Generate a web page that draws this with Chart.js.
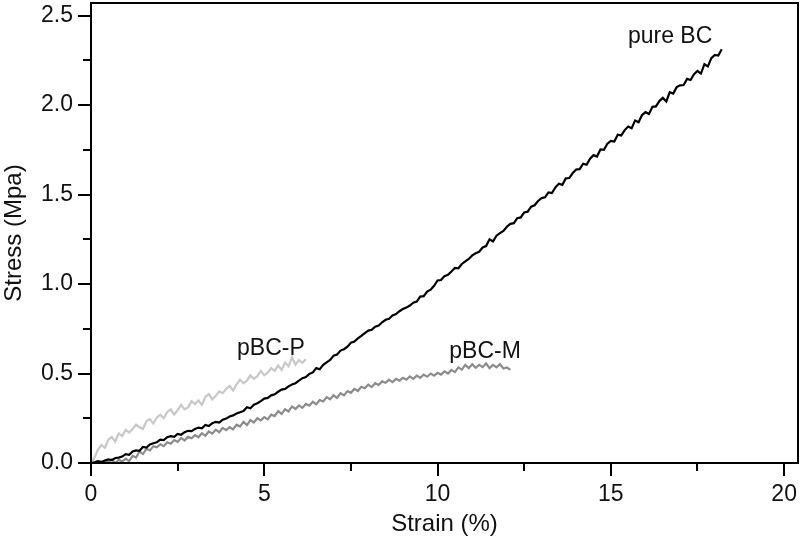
<!DOCTYPE html>
<html>
<head>
<meta charset="utf-8">
<script src="https://cdn.jsdelivr.net/npm/chart.js@4/dist/chart.umd.min.js"></script>
<style>
  html, body { margin: 0; padding: 0; background: #fff; }
  canvas { display: block; }
</style>
</head>
<body>
<canvas id="stressChart" width="800" height="539"></canvas>
<script>
// ── Strain grid (%) ─────────────────────────────────────
const strain = [
  0.0, 0.1, 0.2, 0.3, 0.4, 0.5, 0.6, 0.7, 0.8, 0.9,
  1.0, 1.1, 1.2, 1.3, 1.4, 1.5, 1.6, 1.7, 1.8, 1.9,
  2.0, 2.1, 2.2, 2.3, 2.4, 2.5, 2.6, 2.7, 2.8, 2.9,
  3.0, 3.1, 3.2, 3.3, 3.4, 3.5, 3.6, 3.7, 3.8, 3.9,
  4.0, 4.1, 4.2, 4.3, 4.4, 4.5, 4.6, 4.7, 4.8, 4.9,
  5.0, 5.1, 5.2, 5.3, 5.4, 5.5, 5.6, 5.7, 5.8, 5.9,
  6.0, 6.1, 6.2, 6.3, 6.4, 6.5, 6.6, 6.7, 6.8, 6.9,
  7.0, 7.1, 7.2, 7.3, 7.4, 7.5, 7.6, 7.7, 7.8, 7.9,
  8.0, 8.1, 8.2, 8.3, 8.4, 8.5, 8.6, 8.7, 8.8, 8.9,
  9.0, 9.1, 9.2, 9.3, 9.4, 9.5, 9.6, 9.7, 9.8, 9.9,
  10.0, 10.1, 10.2, 10.3, 10.4, 10.5, 10.6, 10.7, 10.8, 10.9,
  11.0, 11.1, 11.2, 11.3, 11.4, 11.5, 11.6, 11.7, 11.8, 11.9,
  12.0, 12.1, 12.2, 12.3, 12.4, 12.5, 12.6, 12.7, 12.8, 12.9,
  13.0, 13.1, 13.2, 13.3, 13.4, 13.5, 13.6, 13.7, 13.8, 13.9,
  14.0, 14.1, 14.2, 14.3, 14.4, 14.5, 14.6, 14.7, 14.8, 14.9,
  15.0, 15.1, 15.2, 15.3, 15.4, 15.5, 15.6, 15.7, 15.8, 15.9,
  16.0, 16.1, 16.2, 16.3, 16.4, 16.5, 16.6, 16.7, 16.8, 16.9,
  17.0, 17.1, 17.2, 17.3, 17.4, 17.5, 17.6, 17.7, 17.8, 17.9,
  18.0, 18.1, 18.2
];

// ── Stress (MPa), one value per strain step ─────────────
const stressPureBC = [
  0.000, 0.004, 0.010, 0.006, 0.014, 0.020, 0.016, 0.028, 0.030, 0.036,
  0.050, 0.046, 0.064, 0.070, 0.068, 0.090, 0.086, 0.104, 0.110, 0.116,
  0.130, 0.128, 0.144, 0.150, 0.146, 0.162, 0.158, 0.172, 0.180, 0.178,
  0.190, 0.198, 0.194, 0.212, 0.206, 0.222, 0.230, 0.226, 0.242, 0.248,
  0.260, 0.266, 0.276, 0.284, 0.290, 0.312, 0.306, 0.326, 0.334, 0.346,
  0.360, 0.364, 0.378, 0.384, 0.398, 0.410, 0.414, 0.428, 0.438, 0.446,
  0.460, 0.474, 0.480, 0.498, 0.506, 0.530, 0.524, 0.548, 0.562, 0.576,
  0.600, 0.606, 0.628, 0.636, 0.650, 0.672, 0.678, 0.696, 0.710, 0.726,
  0.740, 0.744, 0.762, 0.768, 0.786, 0.800, 0.806, 0.824, 0.832, 0.848,
  0.860, 0.868, 0.880, 0.896, 0.902, 0.930, 0.932, 0.958, 0.968, 0.990,
  1.020, 1.022, 1.044, 1.052, 1.070, 1.090, 1.088, 1.112, 1.126, 1.140,
  1.160, 1.172, 1.180, 1.204, 1.212, 1.250, 1.238, 1.270, 1.284, 1.296,
  1.320, 1.336, 1.340, 1.368, 1.372, 1.400, 1.404, 1.432, 1.440, 1.464,
  1.480, 1.484, 1.512, 1.508, 1.540, 1.560, 1.554, 1.590, 1.592, 1.620,
  1.640, 1.642, 1.672, 1.666, 1.700, 1.720, 1.712, 1.752, 1.750, 1.784,
  1.800, 1.796, 1.834, 1.830, 1.860, 1.880, 1.870, 1.914, 1.904, 1.944,
  1.960, 1.950, 1.990, 1.992, 2.022, 2.040, 2.020, 2.072, 2.064, 2.100,
  2.110, 2.112, 2.146, 2.140, 2.172, 2.190, 2.176, 2.228, 2.216, 2.262,
  2.280, 2.276, 2.312
];

const stressPBCP = [
  0.000, 0.030, 0.075, 0.100, 0.085, 0.130, 0.145, 0.120, 0.165, 0.150,
  0.185, 0.170, 0.190, 0.215, 0.200, 0.190, 0.235, 0.245, 0.220, 0.255,
  0.270, 0.250, 0.285, 0.300, 0.270, 0.295, 0.325, 0.300, 0.310, 0.345,
  0.330, 0.350, 0.325, 0.370, 0.385, 0.355, 0.375, 0.400, 0.390, 0.415,
  0.430, 0.405, 0.440, 0.465, 0.445, 0.460, 0.490, 0.470, 0.485, 0.515,
  0.490, 0.505, 0.530, 0.515, 0.545, 0.520, 0.560, 0.540, 0.590, 0.550,
  0.575, 0.560, 0.580
];

const stressPBCM = [
  null, null, null, 0.000, 0.012, 0.004, 0.020, 0.000, 0.018, 0.008,
  0.024, 0.010, 0.040, 0.030, 0.064, 0.050, 0.080, 0.070, 0.094, 0.088,
  0.104, 0.094, 0.116, 0.108, 0.128, 0.118, 0.140, 0.126, 0.146, 0.138,
  0.156, 0.144, 0.166, 0.152, 0.176, 0.164, 0.186, 0.172, 0.196, 0.184,
  0.200, 0.188, 0.214, 0.204, 0.230, 0.212, 0.240, 0.226, 0.250, 0.238,
  0.256, 0.244, 0.270, 0.262, 0.290, 0.274, 0.300, 0.288, 0.316, 0.302,
  0.322, 0.308, 0.330, 0.320, 0.342, 0.328, 0.352, 0.344, 0.368, 0.356,
  0.378, 0.364, 0.390, 0.378, 0.402, 0.392, 0.414, 0.402, 0.426, 0.418,
  0.438, 0.424, 0.446, 0.436, 0.456, 0.448, 0.466, 0.452, 0.470, 0.460,
  0.476, 0.466, 0.484, 0.470, 0.488, 0.476, 0.494, 0.482, 0.500, 0.488,
  0.504, 0.494, 0.512, 0.500, 0.520, 0.508, 0.534, 0.522, 0.548, 0.530,
  0.552, 0.532, 0.548, 0.536, 0.556, 0.530, 0.548, 0.534, 0.552, 0.528,
  0.534, 0.520
];

// ── Ticks ───────────────────────────────────────────────
const xMajorTicks = [0, 5, 10, 15, 20];
const xMinorTicks = [2.5, 7.5, 12.5, 17.5];
const yMajorTicks = [0, 0.5, 1.0, 1.5, 2.0, 2.5];
const yMinorTicks = [0.25, 0.75, 1.25, 1.75, 2.25];

// ── Curve labels: [text, strain, stress] ────────────────
const curveLabels = [
  ['pure BC', 16.71, 2.348],
  ['pBC-P', 5.19, 0.604],
  ['pBC-M', 11.37, 0.585]
];

const FONT = "'Liberation Sans', Arial, sans-serif";

// Frame, tick marks and curve labels
const framePlugin = {
  id: 'frame',
  afterDraw(chart) {
    const { ctx, chartArea: a, scales: { x, y } } = chart;
    ctx.save();
    ctx.strokeStyle = '#000';
    ctx.lineWidth = 2;
    ctx.strokeRect(a.left, a.top, a.right - a.left, a.bottom - a.top);

    const tick = (x1, y1, x2, y2) => {
      ctx.beginPath(); ctx.moveTo(x1, y1); ctx.lineTo(x2, y2); ctx.stroke();
    };
    xMajorTicks.forEach(v => { const p = Math.round(x.getPixelForValue(v)); tick(p, a.bottom, p, a.bottom + 13); });
    xMinorTicks.forEach(v => { const p = Math.round(x.getPixelForValue(v)); tick(p, a.bottom, p, a.bottom + 8); });
    yMajorTicks.forEach(v => { const p = Math.round(y.getPixelForValue(v)); tick(a.left - 13, p, a.left, p); });
    yMinorTicks.forEach(v => { const p = Math.round(y.getPixelForValue(v)); tick(a.left - 8, p, a.left, p); });

    ctx.fillStyle = '#111';
    ctx.font = `23px ${FONT}`;
    ctx.textAlign = 'center';
    ctx.textBaseline = 'alphabetic';
    curveLabels.forEach(([t, sx, sy]) => {
      ctx.fillText(t, x.getPixelForValue(sx), y.getPixelForValue(sy));
    });
    ctx.restore();
  }
};

new Chart(document.getElementById('stressChart'), {
  type: 'line',
  data: {
    labels: strain,
    datasets: [
      { label: 'pure BC', data: stressPureBC, borderColor: '#000000', borderWidth: 2.2 },
      { label: 'pBC-M', data: stressPBCM, borderColor: '#8c8c8c', borderWidth: 2.2 },
      { label: 'pBC-P', data: stressPBCP, borderColor: '#c8c8c8', borderWidth: 2.2 }
    ]
  },
  options: {
    responsive: false,
    animation: false,
    spanGaps: false,
    elements: { point: { radius: 0 }, line: { tension: 0 } },
    layout: { padding: { top: 3, right: 2, left: 0, bottom: 0 } },
    plugins: { legend: { display: false }, tooltip: { enabled: false } },
    scales: {
      x: {
        type: 'linear',
        min: 0,
        max: 20.4,
        grid: { display: false, drawTicks: false },
        border: { display: false },
        afterBuildTicks: s => { s.ticks = xMajorTicks.map(v => ({ value: v })); },
        afterFit: s => { s.height = 76; s.paddingLeft = 0; s.paddingRight = 0; },
        ticks: {
          color: '#111',
          padding: 18,
          maxRotation: 0,
          font: { family: FONT, size: 23 },
          callback: v => String(v)
        },
        title: {
          display: true,
          text: 'Strain (%)',
          color: '#111',
          font: { family: FONT, size: 24 },
          padding: { top: 0, bottom: 0 }
        }
      },
      y: {
        min: 0,
        max: 2.57,
        grid: { display: false, drawTicks: false },
        border: { display: false },
        afterBuildTicks: s => { s.ticks = yMajorTicks.map(v => ({ value: v })); },
        afterFit: s => { s.width = 91; s.paddingTop = 0; s.paddingBottom = 0; },
        ticks: {
          color: '#111',
          padding: 18,
          font: { family: FONT, size: 23 },
          callback: v => v.toFixed(1)
        },
        title: {
          display: true,
          text: 'Stress (Mpa)',
          color: '#111',
          font: { family: FONT, size: 24 },
          padding: { top: 0, bottom: 0 }
        }
      }
    }
  },
  plugins: [framePlugin]
});
</script>
</body>
</html>
